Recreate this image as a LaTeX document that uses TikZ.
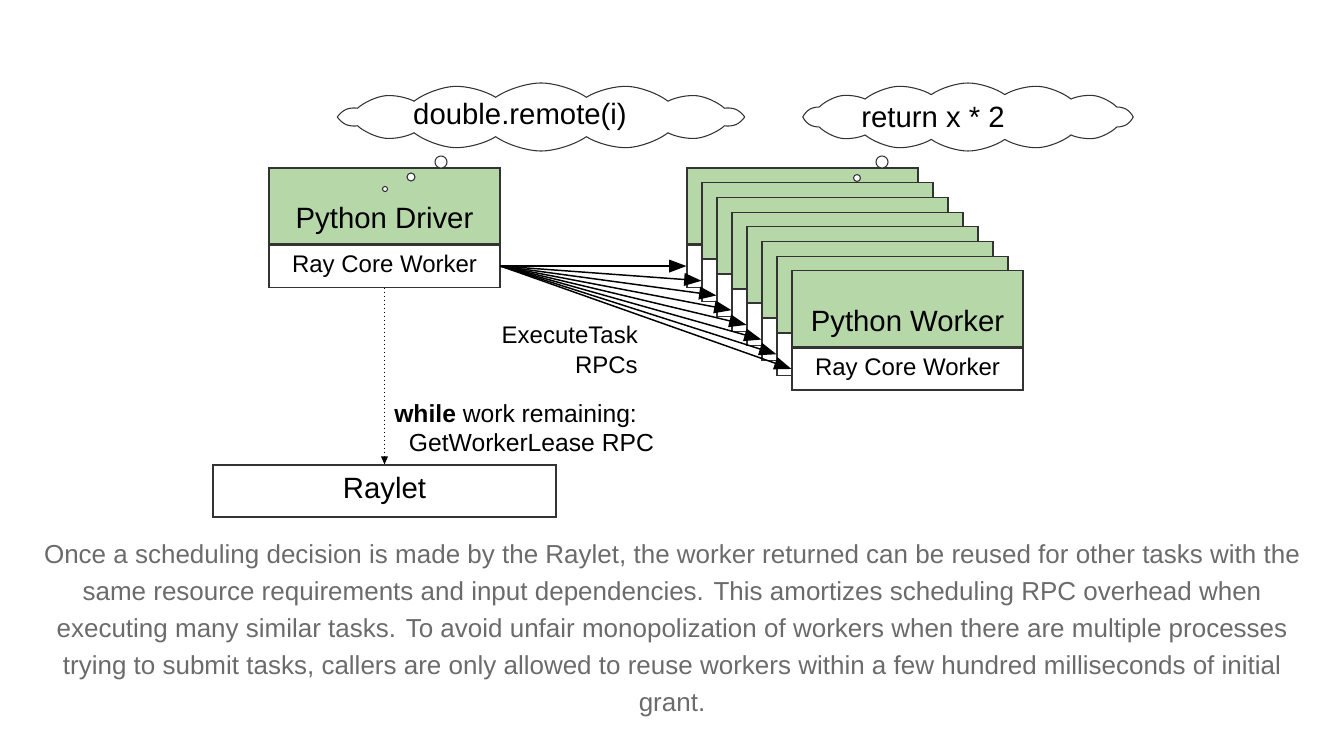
\documentclass[tikz,border=0pt]{standalone}
\usepackage{fontspec}
\setmainfont{Liberation Sans}
\usepackage{tikz}
\usetikzlibrary{shapes.symbols, arrows.meta}
\definecolor{drvgreen}{HTML}{B6D7A8}
\definecolor{edgegray}{HTML}{333333}
\definecolor{captiongray}{HTML}{6B6B6B}

\begin{document}
\begin{tikzpicture}[x=0.75pt, y=-0.75pt,
	greenbox/.style={draw=edgegray, fill=drvgreen, line width=0.8pt, minimum width=173.25pt, minimum height=57pt, inner sep=0pt},
	corebox/.style={draw=edgegray, fill=white, line width=0.8pt, minimum width=173.25pt, minimum height=31.5pt, inner sep=0pt, font=\fontsize{18}{20}\selectfont},
	bigtxt/.style={font=\fontsize{22}{24}\selectfont, inner sep=0pt},
	smalltxt/.style={font=\fontsize{18.5}{22}\selectfont, inner sep=0pt},
	thought/.style={cloud, cloud puffs=14, cloud puff arc=70, draw=edgegray, line width=0.8pt, minimum height=51pt, inner sep=0pt},
	bubble/.style={draw=edgegray, fill=white, line width=0.8pt},
	rpc/.style={-{Triangle[length=13pt, width=9.5pt]}, line width=1.1pt}]
	\useasboundingbox (0, 0) rectangle (1319, 745);
	\node[thought, minimum width=300pt] (cloudl) at (541, 117) {};
	\node[bigtxt] (cloudltxt) at (520, 117) {double.remote(i)};
	\node[thought, minimum width=244pt] (cloudr) at (968, 117) {};
	\node[bigtxt] (cloudrtxt) at (933, 117) {return x * 2};
	\node[greenbox] (drv) at (384.5, 206) {};
	\node[corebox, anchor=north] (drvcore) at (drv.south) {Ray Core Worker};
	\node[bigtxt] (drvtxt) at (384.5, 221) {Python Driver};
	\node[greenbox] (wk1) at (802.5, 206.0) {};
	\node[corebox, anchor=north] (wkcore1) at (wk1.south) {};
	\node[greenbox] (wk2) at (817.5, 220.7) {};
	\node[corebox, anchor=north] (wkcore2) at (wk2.south) {};
	\node[greenbox] (wk3) at (832.5, 235.4) {};
	\node[corebox, anchor=north] (wkcore3) at (wk3.south) {};
	\node[greenbox] (wk4) at (847.5, 250.1) {};
	\node[corebox, anchor=north] (wkcore4) at (wk4.south) {};
	\node[greenbox] (wk5) at (862.5, 264.8) {};
	\node[corebox, anchor=north] (wkcore5) at (wk5.south) {};
	\node[greenbox] (wk6) at (877.5, 279.5) {};
	\node[corebox, anchor=north] (wkcore6) at (wk6.south) {};
	\node[greenbox] (wk7) at (892.5, 294.2) {};
	\node[corebox, anchor=north] (wkcore7) at (wk7.south) {};
	\node[greenbox] (wk8) at (907.5, 308.9) {};
	\node[corebox, anchor=north] (wkcore8) at (wk8.south) {Ray Core Worker};
	\node[bigtxt] (wktxt) at (907.5, 324) {Python Worker};
	\draw[bubble] (441, 162) circle (4.5pt);
	\draw[bubble] (411, 177) circle (3pt);
	\draw[bubble] (385, 189) circle (1.9pt);
	\draw[bubble] (882, 162) circle (4.5pt);
	\draw[bubble] (857, 178) circle (2.6pt);
	\draw[rpc] (drvcore.east) -- (wkcore1.west);
	\draw[rpc] (drvcore.east) -- (wkcore2.west);
	\draw[rpc] (drvcore.east) -- (wkcore3.west);
	\draw[rpc] (drvcore.east) -- (wkcore4.west);
	\draw[rpc] (drvcore.east) -- (wkcore5.west);
	\draw[rpc] (drvcore.east) -- (wkcore6.west);
	\draw[rpc] (drvcore.east) -- (wkcore7.west);
	\draw[rpc] (drvcore.east) -- (wkcore8.west);
	\node[smalltxt, font=\fontsize{18}{22.5}\selectfont, align=right, anchor=east] (rpclbl) at (638, 350) {ExecuteTask\\RPCs};
	\node[draw=edgegray, line width=0.8pt, minimum width=257.25pt, minimum height=39pt, font=\fontsize{22}{24}\selectfont] (raylet) at (384.5, 491) {Raylet};
	\draw[dotted, line width=1pt, -{Triangle[length=6pt, width=5pt]}] (drvcore.south) -- (raylet.north);
	\node[smalltxt, font=\fontsize{18.5}{21.75}\selectfont, align=left, anchor=west] (leaselbl) at (394, 428) {\textbf{while} work remaining:\\\hspace{11pt}GetWorkerLease RPC};
	\node[font=\fontsize{19.5}{27.75}\selectfont, text=captiongray, align=center] (caption) at (672, 631) {Once a scheduling decision is made by the Raylet, the worker returned can be reused for other tasks with the\\same resource requirements and input dependencies. This amortizes scheduling RPC overhead when\\executing many similar tasks. To avoid unfair monopolization of workers when there are multiple processes\\trying to submit tasks, callers are only allowed to reuse workers within a few hundred milliseconds of initial\\grant.};
\end{tikzpicture}
\end{document}
